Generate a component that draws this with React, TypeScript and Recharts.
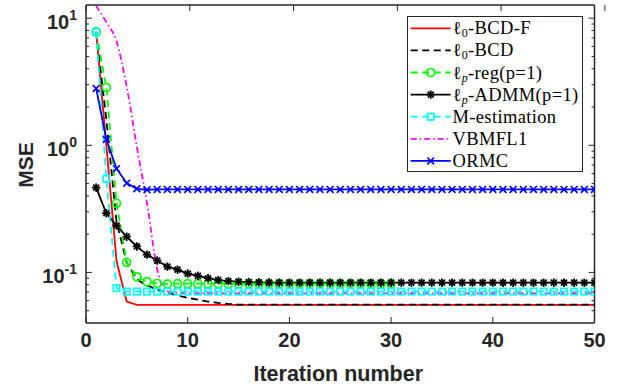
import React from "react";
import { LineChart, Line, XAxis, YAxis, Legend } from "recharts";

// iteration index (x axis categories)
const iterations = Array.from({ length: 50 }, (_, i) => i + 1);

// MSE per iteration
const l0BcdF = [
  7.8, 1.0, 0.123, 0.059, 0.0556, 0.0556, 0.0556, 0.0556, 0.0556, 0.0556,
  0.0556, 0.0556, 0.0556, 0.0556, 0.0556, 0.0556, 0.0556, 0.0556, 0.0556, 0.0556,
  0.0556, 0.0556, 0.0556, 0.0556, 0.0556, 0.0556, 0.0556, 0.0556, 0.0556, 0.0556,
  0.0556, 0.0556, 0.0556, 0.0556, 0.0556, 0.0556, 0.0556, 0.0556, 0.0556, 0.0556,
  0.0556, 0.0556, 0.0556, 0.0556, 0.0556, 0.0556, 0.0556, 0.0556, 0.0556, 0.0556,
];
const l0Bcd = [
  7.8, 1.6, 0.25, 0.12, 0.088, 0.079, 0.073, 0.069, 0.066, 0.063,
  0.061, 0.059, 0.0575, 0.0565, 0.0558, 0.0558, 0.0558, 0.0558, 0.0558, 0.0558,
  0.0558, 0.0558, 0.0558, 0.0558, 0.0558, 0.0558, 0.0558, 0.0558, 0.0558, 0.0558,
  0.0558, 0.0558, 0.0558, 0.0558, 0.0558, 0.0558, 0.0558, 0.0558, 0.0558, 0.0558,
  0.0558, 0.0558, 0.0558, 0.0558, 0.0558, 0.0558, 0.0558, 0.0558, 0.0558, 0.0558,
];
// only 30 iterations for this one
const lpReg = [
  7.8, 2.85, 0.35, 0.12, 0.0924, 0.0845, 0.082, 0.081, 0.0815, 0.0815,
  0.0815, 0.0815, 0.0815, 0.0815, 0.0815, 0.0815, 0.0815, 0.0815, 0.0815, 0.0815,
  0.0815, 0.0815, 0.0815, 0.0815, 0.0815, 0.0815, 0.0815, 0.0815, 0.0815, 0.0815,
];
const lpAdmm = [
  0.464, 0.292, 0.234, 0.191, 0.16, 0.138, 0.124, 0.111, 0.105, 0.098,
  0.094, 0.09, 0.087, 0.0855, 0.0845, 0.084, 0.0835, 0.0832, 0.083, 0.083,
  0.083, 0.083, 0.083, 0.083, 0.083, 0.083, 0.083, 0.083, 0.083, 0.083,
  0.083, 0.083, 0.083, 0.083, 0.083, 0.083, 0.083, 0.083, 0.083, 0.083,
  0.083, 0.083, 0.083, 0.083, 0.083, 0.083, 0.083, 0.083, 0.083, 0.083,
];
const mEst = [
  7.8, 0.546, 0.0753, 0.0707, 0.0707, 0.0707, 0.0707, 0.0707, 0.0707, 0.0707,
  0.0707, 0.0707, 0.0707, 0.0707, 0.0707, 0.0707, 0.0707, 0.0707, 0.0707, 0.0707,
  0.0707, 0.0707, 0.0707, 0.0707, 0.0707, 0.0707, 0.0707, 0.0707, 0.0707, 0.0707,
  0.0707, 0.0707, 0.0707, 0.0707, 0.0707, 0.0707, 0.0707, 0.0707, 0.0707, 0.0707,
  0.0707, 0.0707, 0.0707, 0.0707, 0.0707, 0.0707, 0.0707, 0.0707, 0.0707, 0.0707,
];
const vbmfl1 = [
  12.5, 9.3, 6.6, 2.9, 0.97, 0.35, 0.106, 0.0708, 0.069, 0.0685,
  0.0683, 0.0683, 0.0683, 0.0683, 0.0683, 0.0683, 0.0683, 0.0683, 0.0683, 0.0683,
  0.0683, 0.0683, 0.0683, 0.0683, 0.0683, 0.0683, 0.0683, 0.0683, 0.0683, 0.0683,
  0.0683, 0.0683, 0.0683, 0.0683, 0.0683, 0.0683, 0.0683, 0.0683, 0.0683, 0.0683,
  0.0683, 0.0683, 0.0683, 0.0683, 0.0683, 0.0683, 0.0683, 0.0683, 0.0683, 0.0683,
];
const ormc = [
  2.8, 1.11, 0.655, 0.504, 0.455, 0.447, 0.45, 0.45, 0.45, 0.45,
  0.45, 0.45, 0.45, 0.45, 0.45, 0.45, 0.45, 0.45, 0.45, 0.45,
  0.45, 0.45, 0.45, 0.45, 0.45, 0.45, 0.45, 0.45, 0.45, 0.45,
  0.45, 0.45, 0.45, 0.45, 0.45, 0.45, 0.45, 0.45, 0.45, 0.45,
  0.45, 0.45, 0.45, 0.45, 0.45, 0.45, 0.45, 0.45, 0.45, 0.45,
];

const xTicks = [0, 10, 20, 30, 40, 50];
const yMajor = [0.1, 1, 10];
const yMinor = [
  0.05, 0.06, 0.07, 0.08, 0.09, 0.2, 0.3, 0.4, 0.5, 0.6, 0.7, 0.8, 0.9,
  2, 3, 4, 5, 6, 7, 8, 9,
];
const yTicks = [...yMinor, ...yMajor].sort((a, b) => a - b);

const data = iterations.map((it, i) => ({
  iter: it,
  bcdf: l0BcdF[i],
  bcd: l0Bcd[i],
  reg: lpReg[i],
  admm: lpAdmm[i],
  mest: mEst[i],
  vb: vbmfl1[i],
  ormc: ormc[i],
}));

const AX = "#262626";
const SANS = "'Liberation Sans', Arial, Helvetica, sans-serif";
const SERIF = "'Liberation Serif', 'Times New Roman', serif";
const DASH = "7 4.5";
const DASHDOT = "6 3 1.5 3";
const LW = 1.8;

// markers
const circleMark = (color: string) => (p: any) => {
  if (p.cy == null || p.value == null) return <g key={`c${p.index}`} />;
  return <circle key={`c${p.index}`} cx={p.cx} cy={p.cy} r={4} fill="none" stroke={color} strokeWidth={1.7} />;
};
const squareMark = (color: string) => (p: any) => {
  if (p.cy == null) return <g key={`s${p.index}`} />;
  return <rect key={`s${p.index}`} x={p.cx - 3.2} y={p.cy - 3.2} width={6.4} height={6.4} fill="none" stroke={color} strokeWidth={1.7} />;
};
const starMark = (color: string) => (p: any) => {
  if (p.cy == null) return <g key={`a${p.index}`} />;
  const r = 4.2;
  const d = r * 0.707;
  return (
    <g key={`a${p.index}`} stroke={color} strokeWidth={1.8}>
      <line x1={p.cx - r} y1={p.cy} x2={p.cx + r} y2={p.cy} />
      <line x1={p.cx} y1={p.cy - r} x2={p.cx} y2={p.cy + r} />
      <line x1={p.cx - d} y1={p.cy - d} x2={p.cx + d} y2={p.cy + d} />
      <line x1={p.cx - d} y1={p.cy + d} x2={p.cx + d} y2={p.cy - d} />
    </g>
  );
};
const crossMark = (color: string) => (p: any) => {
  if (p.cy == null) return <g key={`x${p.index}`} />;
  const r = 3.4;
  return (
    <g key={`x${p.index}`} stroke={color} strokeWidth={1.7}>
      <line x1={p.cx - r} y1={p.cy - r} x2={p.cx + r} y2={p.cy + r} />
      <line x1={p.cx - r} y1={p.cy + r} x2={p.cx + r} y2={p.cy - r} />
    </g>
  );
};

// ticks drawn inward, MATLAB style
const LeftTick = (props: any) => {
  const { x, y, payload } = props;
  const v = payload.value;
  const major = yMajor.includes(v);
  const exp = Math.round(Math.log10(v));
  return (
    <g>
      <line x1={x} x2={x + (major ? 6 : 3)} y1={y} y2={y} stroke={AX} strokeWidth={1} />
      {major && (
        <text x={x - 9} y={y + 11} textAnchor="end" fontFamily={SANS} fontWeight="bold" fontSize={20} fill={AX}>
          10
          <tspan dy={-9} fontSize={14}>{exp}</tspan>
        </text>
      )}
    </g>
  );
};
const RightTick = (props: any) => {
  const { x, y, payload } = props;
  const major = yMajor.includes(payload.value);
  return <line x1={x} x2={x - (major ? 6 : 3)} y1={y} y2={y} stroke={AX} strokeWidth={1} />;
};
const BottomTick = (props: any) => {
  const { x, y, payload } = props;
  return (
    <g>
      <line x1={x} x2={x} y1={y} y2={y - 6} stroke={AX} strokeWidth={1} />
      <text x={x} y={y + 24} textAnchor="middle" fontFamily={SANS} fontWeight="bold" fontSize={20} fill={AX}>
        {payload.value}
      </text>
    </g>
  );
};
const TopTick = (props: any) => {
  const { x, y } = props;
  return <line x1={x} x2={x} y1={y} y2={y + 6} stroke={AX} strokeWidth={1} />;
};

const XLabel = (props: any) => {
  const vb = props.viewBox;
  return (
    <text x={vb.x + vb.width / 2 - 2} y={vb.y + 57.5} textAnchor="middle" fontFamily={SANS} fontWeight="bold" fontSize={21.5} fill={AX}>
      Iteration number
    </text>
  );
};
const YLabel = (props: any) => {
  const vb = props.viewBox;
  const cx = 33;
  const cy = vb.y + vb.height / 2 + 1;
  return (
    <text x={cx} y={cy} transform={`rotate(-90 ${cx} ${cy})`} textAnchor="middle" fontFamily={SANS} fontWeight="bold" fontSize={21} fill={AX}>
      MSE
    </text>
  );
};

type Entry = { sub: string; subItalic?: boolean; rest: string; ell: boolean; color: string; dash?: string; mark?: string };
const legendEntries: Entry[] = [
  { ell: true, sub: "0", rest: "-BCD-F", color: "#ff0000" },
  { ell: true, sub: "0", rest: "-BCD", color: "#000000", dash: DASH },
  { ell: true, sub: "p", subItalic: true, rest: "-reg(p=1)", color: "#00ff00", dash: DASH, mark: "o" },
  { ell: true, sub: "p", subItalic: true, rest: "-ADMM(p=1)", color: "#000000", mark: "*" },
  { ell: false, sub: "", rest: "M-estimation", color: "#00ffff", dash: DASH, mark: "s" },
  { ell: false, sub: "", rest: "VBMFL1", color: "#ff00ff", dash: DASHDOT },
  { ell: false, sub: "", rest: "ORMC", color: "#0000ff", mark: "x" },
];

const LegendBox = () => (
  <svg width={176} height={156} style={{ display: "block" }}>
    <rect x={0.5} y={0.5} width={175} height={155} fill="#ffffff" stroke={AX} strokeWidth={1} />
    {legendEntries.map((e, i) => {
      const cy = 12.3 + i * 22.1;
      const p = { cx: 23.7, cy, index: i, value: 1 };
      let mk: any = null;
      if (e.mark === "o") mk = circleMark(e.color)(p);
      if (e.mark === "*") mk = starMark(e.color)(p);
      if (e.mark === "s") mk = squareMark(e.color)(p);
      if (e.mark === "x") mk = crossMark(e.color)(p);
      return (
        <g key={i}>
          <line x1={3.7} x2={43.7} y1={cy} y2={cy} stroke={e.color} strokeWidth={LW} strokeDasharray={e.dash} />
          {mk}
          <text x={45.5} y={cy + 6} fontFamily={SERIF} fontSize={18.5} letterSpacing={0.35} fill="#000">
            {e.ell ? (
              <>
                ℓ
                <tspan dy={3} fontSize={12}>{e.subItalic ? <tspan fontStyle="italic">{e.sub}</tspan> : e.sub}</tspan>
                <tspan dy={-3}>{e.rest}</tspan>
              </>
            ) : (
              e.rest
            )}
          </text>
        </g>
      );
    })}
  </svg>
);

export default function App() {
  return (
    <div style={{ position: "absolute", left: 0, top: 0, width: 624, height: 390, background: "#fff" }}>
      <LineChart width={624} height={390} data={data} margin={{ top: 0, right: 0, bottom: 0, left: 0 }}>
        <XAxis
          xAxisId="bottom"
          dataKey="iter"
          type="number"
          domain={[0, 50]}
          allowDataOverflow
          ticks={xTicks}
          interval={0}
          height={67}
          tickSize={0}
          tickMargin={0}
          tickLine={false}
          axisLine={{ stroke: AX, strokeWidth: 1.5 }}
          tick={BottomTick}
          label={<XLabel />}
        />
        <XAxis
          xAxisId="top"
          orientation="top"
          type="number"
          domain={[0, 50]}
          allowDataOverflow
          ticks={xTicks}
          interval={0}
          height={5}
          tickSize={0}
          tickMargin={0}
          tickLine={false}
          axisLine={{ stroke: AX, strokeWidth: 1.5 }}
          tick={TopTick}
        />
        <YAxis
          yAxisId="left"
          type="number"
          scale="log"
          domain={[0.04, 12.7]}
          allowDataOverflow
          ticks={yTicks}
          interval={0}
          width={86}
          tickSize={0}
          tickMargin={0}
          tickLine={false}
          axisLine={{ stroke: AX, strokeWidth: 1.5 }}
          tick={LeftTick}
          label={<YLabel />}
        />
        <YAxis
          yAxisId="right"
          orientation="right"
          type="number"
          scale="log"
          domain={[0.04, 12.7]}
          allowDataOverflow
          ticks={yTicks}
          interval={0}
          width={29.5}
          tickSize={0}
          tickMargin={0}
          tickLine={false}
          axisLine={{ stroke: AX, strokeWidth: 1.5 }}
          tick={RightTick}
        />
        <Line xAxisId="bottom" yAxisId="left" dataKey="bcdf" name="l0-BCD-F" stroke="#ff0000" strokeWidth={LW} dot={false} isAnimationActive={false} />
        <Line xAxisId="bottom" yAxisId="left" dataKey="bcd" name="l0-BCD" stroke="#000000" strokeWidth={LW} strokeDasharray={DASH} dot={false} isAnimationActive={false} />
        <Line xAxisId="bottom" yAxisId="left" dataKey="reg" name="lp-reg(p=1)" stroke="#00ff00" strokeWidth={LW} strokeDasharray={DASH} dot={circleMark("#00ff00")} isAnimationActive={false} />
        <Line xAxisId="bottom" yAxisId="left" dataKey="admm" name="lp-ADMM(p=1)" stroke="#000000" strokeWidth={LW} dot={starMark("#000000")} isAnimationActive={false} />
        <Line xAxisId="bottom" yAxisId="left" dataKey="mest" name="M-estimation" stroke="#00ffff" strokeWidth={LW} strokeDasharray={DASH} dot={squareMark("#00ffff")} isAnimationActive={false} />
        <Line xAxisId="bottom" yAxisId="left" type="monotone" dataKey="vb" name="VBMFL1" stroke="#ff00ff" strokeWidth={LW} strokeDasharray={DASHDOT} dot={false} isAnimationActive={false} />
        <Line xAxisId="bottom" yAxisId="left" dataKey="ormc" name="ORMC" stroke="#0000ff" strokeWidth={LW} dot={crossMark("#0000ff")} isAnimationActive={false} />
        <Legend
          layout="vertical"
          align="center"
          verticalAlign="middle"
          wrapperStyle={{ position: "absolute", left: 407, top: 16, width: 176, height: 156 }}
          content={() => <LegendBox />}
        />
      </LineChart>
    </div>
  );
}
